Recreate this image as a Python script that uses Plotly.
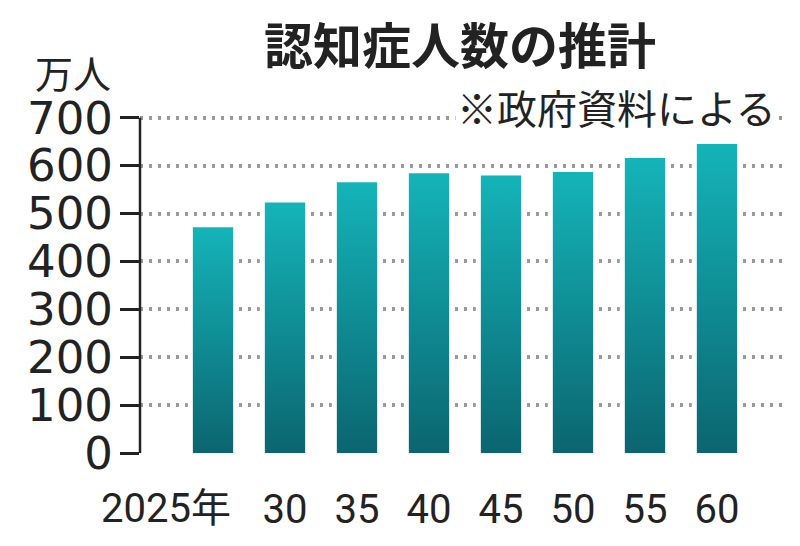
import plotly.graph_objects as go

years = ["2025年", "30", "35", "40", "45", "50", "55", "60"]
values = [471.6, 523.1, 565.5, 584.2, 579.5, 586.6, 616.1, 645.1]
y_ticks = [0, 100, 200, 300, 400, 500, 600, 700]

BAR_HALF = 0.28
TOP_COLOR = "#14b4b9"
BOTTOM_COLOR = "#0b656f"

CJK = "Noto Sans CJK JP"
XFONT = "Roboto, Noto Sans CJK JP"

# figure pixel layout (the page body adds an 8px offset)
W, H = 792, 538
ZERO_Y = 445
PX_PER_UNIT = 335 / 700
Y_MAX = 710
PLOT_TOP = ZERO_Y - Y_MAX * PX_PER_UNIT
PH = ZERO_Y - PLOT_TOP
PL, PR = 132, 774


def paper_y(py):
    return (ZERO_Y - py) / PH


def paper_x(px):
    return (px - PL) / (PR - PL)


fig = go.Figure()

# white halo behind the bars (interrupts the dotted gridlines)
fig.add_trace(go.Bar(
    x=list(range(len(values))), y=values, width=0.70,
    marker=dict(color="white", line=dict(width=0)),
    hoverinfo="skip", showlegend=False,
))

# gradient bars
for i, v in enumerate(values):
    fig.add_trace(go.Scatter(
        x=[i - BAR_HALF, i - BAR_HALF, i + BAR_HALF, i + BAR_HALF, i - BAR_HALF],
        y=[0, v, v, 0, 0],
        mode="lines", fill="toself",
        line=dict(width=0, color=TOP_COLOR),
        fillgradient=dict(type="vertical",
                          colorscale=[[0, BOTTOM_COLOR], [1, TOP_COLOR]]),
        hoverinfo="skip", showlegend=False,
    ))

fig.update_layout(
    width=W, height=H,
    margin=dict(l=PL, r=W - PR, t=PLOT_TOP, b=H - ZERO_Y, autoexpand=False),
    paper_bgcolor="white", plot_bgcolor="white",
    showlegend=False,
)

fig.update_xaxes(
    range=[-1.014, 7.903],
    tickvals=list(range(1, len(values))),
    ticktext=years[1:],
    showgrid=False, zeroline=False, showline=False,
    ticks="", ticklabelstandoff=29, automargin=False,
    tickfont=dict(family=XFONT, size=40, color="#222"),
    fixedrange=True,
)

fig.update_yaxes(
    range=[0, Y_MAX],
    tickvals=y_ticks,
    ticktext=[str(t) for t in y_ticks],
    showgrid=True, gridcolor="#9a9a9a", gridwidth=3.5, griddash="3px,6px",
    zeroline=True, zerolinecolor="white", zerolinewidth=1,
    showline=False,
    ticks="outside", ticklen=19, tickwidth=2.5, tickcolor="#222",
    ticklabelstandoff=-2, automargin=False,
    tickfont=dict(family="DejaVu Sans", size=45, color="#222"),
    fixedrange=True,
)

# y axis line from 0 to the top tick
fig.add_shape(type="line", xref="paper", x0=0, x1=0,
              yref="y", y0=y_ticks[0], y1=y_ticks[-1],
              line=dict(color="#222", width=2.5), layer="above")

# title
fig.add_annotation(
    x=paper_x(452), xref="paper", xanchor="center",
    y=paper_y(35), yref="paper", yanchor="middle",
    text="<b>認知症人数の推計</b>", showarrow=False,
    font=dict(family=CJK, size=49, color="#222"),
)

# first x label with its suffix, right-aligned to the first bar's edge
fig.add_annotation(
    x=0 + BAR_HALF, xref="x", xanchor="right",
    y=paper_y(500), yref="paper", yanchor="middle",
    text=years[0], showarrow=False,
    font=dict(family=XFONT, size=40, color="#222"),
)

# unit label
fig.add_annotation(
    x=paper_x(105), xref="paper", xanchor="right",
    y=paper_y(64), yref="paper", yanchor="middle",
    text="万人", showarrow=False,
    font=dict(family=CJK, size=38, color="#222"),
)

# source note
fig.add_annotation(
    x=paper_x(770), xref="paper", xanchor="right",
    y=paper_y(99), yref="paper", yanchor="middle",
    text="※政府資料による", showarrow=False, bgcolor="white",
    font=dict(family=CJK, size=40, color="#222"),
)

fig.write_html("out.html")
